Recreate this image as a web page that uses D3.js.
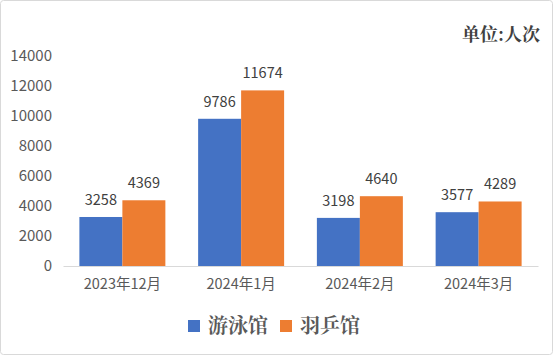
<!DOCTYPE html>
<html><head><meta charset="utf-8">
<script src="https://cdn.jsdelivr.net/npm/d3@7"></script>
<style>body{margin:0;background:#fff}svg{display:block}</style>
</head><body>
<svg id="c" width="553" height="355"></svg>
<script>
const categories = ["2023年12月","2024年1月","2024年2月","2024年3月"];
const seriesNames = ["游泳馆","羽乒馆"];
const swimming = [3258, 9786, 3198, 3577];
const pingpong = [4369, 11674, 4640, 4289];
const yTicks = [0,2000,4000,6000,8000,10000,12000,14000];
const colors = ["#4472C4","#ED7D31"];
const unitLabel = "单位:人次";

const svg = d3.select("#c");
svg.append("rect").attr("x",0.5).attr("y",0.5).attr("width",552).attr("height",354)
  .attr("rx",3).attr("fill","#fff").attr("stroke","#d9d9d9");

const x = d3.scaleBand().domain(categories).range([63,538]).paddingInner(0.276).paddingOuter(0.138);
const xs = d3.scaleBand().domain(seriesNames).range([0,x.bandwidth()]);
const y = d3.scaleLinear().domain([0,14000]).range([266,55.4]);

const font = "'Noto Sans CJK SC','Open Sans',sans-serif";

// y axis labels
const yAxis = d3.axisLeft(y).tickValues(yTicks).tickSize(0).tickPadding(0).tickFormat(d3.format("d"));
const ga = svg.append("g").attr("transform","translate(52,0)").call(yAxis);
ga.select(".domain").remove();
ga.selectAll("text").attr("font-family",font).attr("font-size",15).attr("fill","#595959");

// x axis
const xAxis = d3.axisBottom(x).tickSize(0).tickPadding(13);
const gx = svg.append("g").attr("transform","translate(0,266)").call(xAxis);
gx.select(".domain").attr("stroke","#d9d9d9").attr("stroke-width",1);
gx.selectAll("text").attr("font-family",font).attr("font-size",14.5).attr("fill","#595959");

const data = [swimming, pingpong];
data.forEach((vals,si)=>{
  const g = svg.append("g");
  g.selectAll("rect").data(vals).join("rect")
    .attr("x",(d,i)=>x(categories[i])+xs(seriesNames[si]))
    .attr("y",d=>y(d))
    .attr("width",xs.bandwidth())
    .attr("height",d=>y(0)-y(d))
    .attr("fill",colors[si]);
  g.selectAll("text").data(vals).join("text")
    .attr("x",(d,i)=>x(categories[i])+xs(seriesNames[si])+xs.bandwidth()/2)
    .attr("y",d=>y(d)-12)
    .attr("text-anchor","middle")
    .attr("font-family",font).attr("font-size",14.5).attr("fill","#404040")
    .text(d=>d);
});

// unit label
svg.append("text").attr("x",540).attr("y",41).attr("text-anchor","end")
  .attr("font-family","'Noto Serif CJK SC','Noto Sans CJK SC',serif").attr("font-weight","bold")
  .attr("font-size",18).attr("fill","#404040").text(unitLabel);

// legend
const legX = [188, 280];
seriesNames.forEach((n,i)=>{
  svg.append("rect").attr("x",legX[i]).attr("y",320).attr("width",12).attr("height",12).attr("fill",colors[i]);
  svg.append("text").attr("x",legX[i]+20).attr("y",333)
    .attr("font-family","'Noto Serif CJK SC','Noto Sans CJK SC',serif").attr("font-weight","bold")
    .attr("font-size",20).attr("fill","#595959").text(n);
});
</script>
</body></html>
